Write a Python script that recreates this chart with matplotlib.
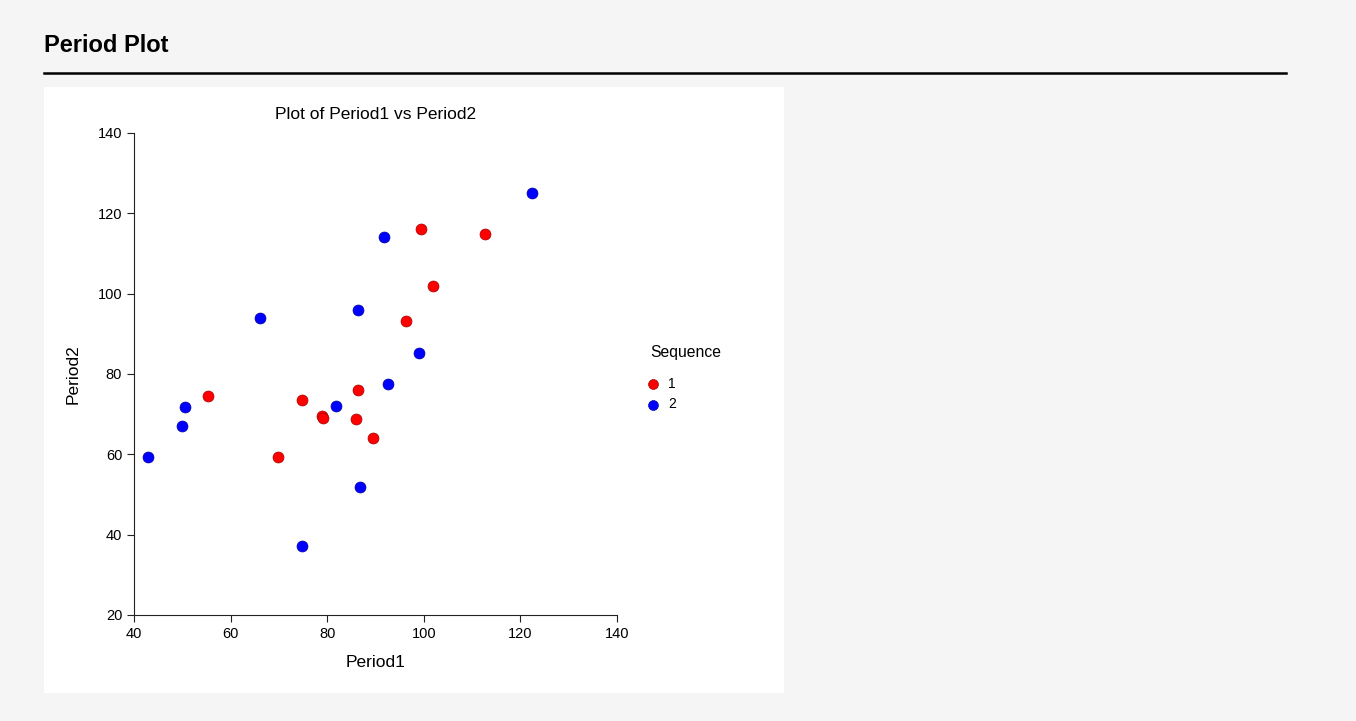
import matplotlib.pyplot as plt
from matplotlib.patches import Rectangle
from matplotlib.lines import Line2D

plt.rcParams['font.family'] = ['Liberation Sans', 'DejaVu Sans']

# sequence 1 (red)
seq1_p1 = [55.3, 69.8, 74.8, 79.0, 79.2, 86.0, 86.4, 89.5, 96.3, 99.4, 101.9, 112.7]
seq1_p2 = [74.5, 59.3, 73.5, 69.5, 69.0, 68.8, 76.0, 64.1, 93.2, 116.1, 101.9, 114.9]
# sequence 2 (blue)
seq2_p1 = [42.9, 49.9, 50.6, 66.1, 74.8, 81.8, 86.4, 86.8, 91.8, 92.6, 99.0, 122.4]
seq2_p2 = [59.3, 67.1, 71.8, 93.9, 37.2, 72.0, 95.9, 51.9, 114.1, 77.5, 85.2, 125.1]

ticks = [20, 40, 60, 80, 100, 120, 140]

fig = plt.figure(figsize=(13.56, 7.21), dpi=100, facecolor='#f5f5f5')

# white panel behind the chart
panel = Rectangle((44 / 1356, 1 - 693 / 721), 740 / 1356, 606 / 721,
                  transform=fig.transFigure, facecolor='white',
                  edgecolor='none', zorder=-10)
fig.add_artist(panel)
fig.text(44 / 1356, 1 - 46 / 721, 'Period Plot', fontsize=17, fontweight='bold',
         va='center', ha='left')
fig.add_artist(Line2D([44 / 1356, 1286 / 1356], [1 - 73 / 721, 1 - 73 / 721],
                      transform=fig.transFigure, color='black', lw=1.8))

ax = fig.add_axes([134 / 1356, 1 - 615 / 721, 483 / 1356, 482 / 721])
ax.set_facecolor('white')
ax.scatter(seq1_p1, seq1_p2, s=62, color='#ff0000', edgecolors='#a00000',
           linewidths=0.5, label='1', zorder=3, clip_on=False)
ax.scatter(seq2_p1, seq2_p2, s=62, color='#0000ff', edgecolors='#0000a0',
           linewidths=0.5, label='2', zorder=3, clip_on=False)

ax.set_xlim(40, 140)
ax.set_ylim(20, 140)
ax.set_xticks(ticks[1:])
ax.set_yticks(ticks)
for s in ['top', 'right']:
    ax.spines[s].set_visible(False)
for s in ['left', 'bottom']:
    ax.spines[s].set_color('#222222')
ax.tick_params(labelsize=10.5, length=5, direction='out', color='#222222')
ax.set_xlabel('Period1', fontsize=12.5, labelpad=10)
ax.set_ylabel('Period2', fontsize=12.5, labelpad=12)
ax.set_title('Plot of Period1 vs Period2', fontsize=12.5, pad=10)

ax.text((650 - 134) / 483, (615 - 353) / 482, 'Sequence', transform=ax.transAxes,
        fontsize=11.3, ha='left', va='center')
leg = ax.legend(loc='upper left', bbox_to_anchor=((640 - 134) / 483, (615 - 371) / 482),
                frameon=False, fontsize=10, handlelength=1.0,
                handletextpad=0.6, markerscale=0.9, labelspacing=0.5,
                borderaxespad=0)

fig.savefig('out.png', dpi=100, facecolor=fig.get_facecolor())
